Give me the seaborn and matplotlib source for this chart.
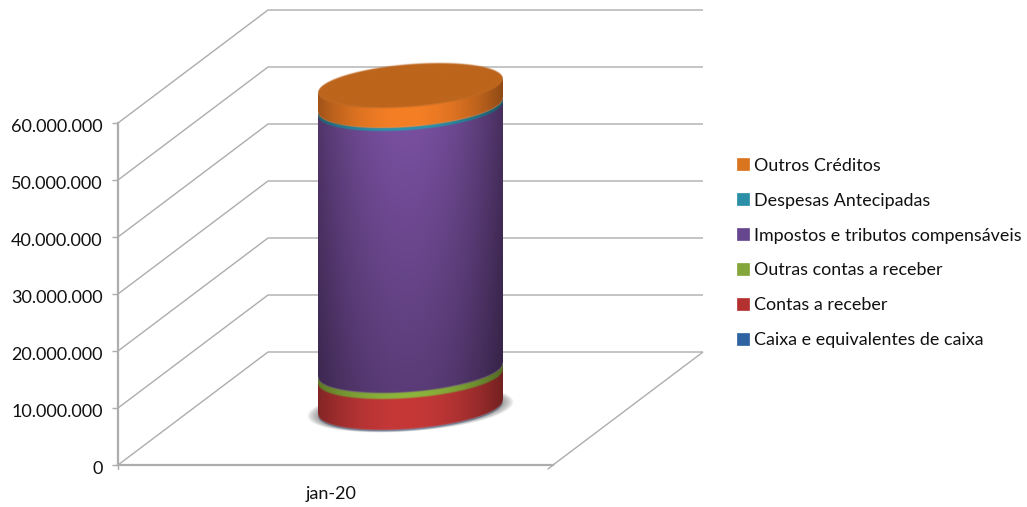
import numpy as np
import pandas as pd
import seaborn as sns
import matplotlib.pyplot as plt
from matplotlib.patches import Patch, Polygon
from matplotlib.ticker import FuncFormatter
from matplotlib.transforms import ScaledTranslation

sns.set_theme(style="white")
plt.rcParams['font.family'] = ['Lato', 'DejaVu Sans']

# Data (reais)
period = ['jan-20']
series = ['Caixa e equivalentes de caixa', 'Contas a receber', 'Outras contas a receber',
          'Impostos e tributos compensáveis', 'Despesas Antecipadas', 'Outros Créditos']
values = [60000, 5600000, 1000000, 46000000, 500000, 3500000]
y_ticks = [0, 10000000, 20000000, 30000000, 40000000, 50000000, 60000000]

# Colours
colors = ['#2f66a8', '#c63838', '#8db43c', '#7c52a4', '#2a93ad', '#f57f25']
legend_colors = ['#2f62a0', '#b5312f', '#84a63a', '#66478f', '#2b8fa8', '#d9741f']
cap_color = '#bd651c'
line_color = '#adadad'
fade = [1, 1, 1, 0.72, 1, 1]  # darkening towards the base of each band

# Frame in pixels of the 1027x507 picture
W, H = 1027, 507
LEFT, RIGHT, BOTTOM, TOP = 118, 553, 465, 123
PX_Y = (BOTTOM - TOP) / 60e6
PX_X = RIGHT - LEFT
DEPTH_X = 150 / PX_X
DEPTH_Y = 113 / PX_Y

fig = plt.figure(figsize=(W / 100, H / 100), dpi=100)
ax = fig.add_axes([LEFT / W, 1 - BOTTOM / H, PX_X / W, (BOTTOM - TOP) / H])


def project(x, y, depth):
    return x + depth * DEPTH_X, y + depth * DEPTH_Y


def wire(xs, ys, depths, lw=1.0):
    px, py = project(np.array(xs), np.array(ys), np.array(depths))
    ax.plot(px, py, color=line_color, lw=lw, clip_on=False, zorder=1, solid_capstyle='butt')


# stacked bars via seaborn, their geometry then drives the cylinder bands
bottom = 0
for name, val in zip(series, values):
    df = pd.DataFrame({'period': period, 'value': [val]})
    sns.barplot(data=df, x='period', y='value', color='white', width=0.423, bottom=bottom,
                errorbar=None, ax=ax)
    bottom += val
bars = list(ax.patches)
for b in bars:
    b.set_visible(False)

ax.set_xlim(-0.5, 0.5)
ax.set_ylim(0, 60e6)

# walls and floor
for v in y_ticks:
    wire([-0.5, -0.5, 0.5], [v, v, v], [0, 1, 1])
wire([0.5, 0.5], [0, 0], [0, 1])

# cylinder
cx_depth = 0.5
half_w = bars[0].get_width() / 2
cx = bars[0].get_x() + half_w + cx_depth * DEPTH_X
dy0 = cx_depth * DEPTH_Y
ELL_B = 21.4 / PX_Y
ELL_S = 7 / PX_Y
SOFT = 1.6 / PX_Y


def front(u, v):
    return v + dy0 - ELL_B * np.sqrt(np.clip(1 - u ** 2, 0, 1)) + ELL_S * u


def back(u, v):
    return v + dy0 + ELL_B * np.sqrt(np.clip(1 - u ** 2, 0, 1)) + ELL_S * u


def band(lower, upper, color, f=1.0, shade=True):
    rgb = np.array(plt.matplotlib.colors.to_rgb(color))
    u = np.linspace(-1, 1, 400)
    ymin = lower(u).min() - 3 * SOFT
    ymax = upper(u).max() + 3 * SOFT
    rows = max(int((ymax - ymin) * PX_Y * 2), 8)
    y = np.linspace(ymin, ymax, rows)
    U, Y = np.meshgrid(u, y)
    lo, hi = lower(U), upper(U)
    alpha = np.clip((Y - lo) / SOFT + 0.5, 0, 1) * np.clip((hi - Y) / SOFT + 0.5, 0, 1)
    side = 0.62 + 0.38 * (1 - np.abs(U + 0.05) ** 2) if shade else np.ones_like(U)
    span = np.clip((Y - ymin) / (ymax - ymin), 0, 1)
    vert = f + (1 - f) * span
    img = np.zeros(U.shape + (4,))
    for i in range(3):
        img[..., i] = np.clip(rgb[i] * side * vert, 0, 1)
    img[..., 3] = alpha
    ax.imshow(img, extent=[cx - half_w, cx + half_w, ymin, ymax], origin='lower', aspect='auto',
              interpolation='bilinear', zorder=4, clip_on=False)


# soft shadow under the base
t = np.linspace(0, 2 * np.pi, 120)
for k in np.linspace(1.0, 0.86, 14):
    sx = cx + half_w * 1.12 * k * np.cos(t)
    sy = dy0 + (ELL_B * 1.05 * k * np.sin(t) + ELL_S * np.cos(t)) - 0.5 / PX_Y
    ax.add_patch(Polygon(np.c_[sx, sy], closed=True, fc='#555555', ec='none', alpha=0.065,
                         zorder=3, clip_on=False))

for b, color, f in zip(bars, colors, fade):
    lo_v = b.get_y()
    # overlap the next band by a pixel, but keep the very thin Caixa band thin
    hi_v = b.get_y() + b.get_height() + min(1.0 / PX_Y, b.get_height())
    band(lambda u, v=lo_v: front(u, v), lambda u, v=hi_v: front(u, v), color, f)

top_v = bars[-1].get_y() + bars[-1].get_height()
band(lambda u: front(u, top_v), lambda u: back(u, top_v), cap_color, shade=False)

# axes styling
for side in ['top', 'right']:
    ax.spines[side].set_visible(False)
for side in ['left', 'bottom']:
    ax.spines[side].set_color(line_color)
    ax.spines[side].set_linewidth(1.6)
    ax.spines[side].set_zorder(2)

ax.set_yticks(y_ticks)
ax.yaxis.set_major_formatter(FuncFormatter(lambda v, _: f'{int(v):,}'.replace(',', '.')))
ax.tick_params(axis='y', length=4, width=1, color=line_color, labelsize=13, pad=7,
               labelcolor='#111111', left=True)
for lab in ax.get_yticklabels():
    lab.set_transform(lab.get_transform() + ScaledTranslation(0, -1.8 / 72, fig.dpi_scale_trans))
ax.set_xticks([-0.01])
ax.set_xticklabels(period)
ax.tick_params(axis='x', length=0, labelsize=13, pad=15, labelcolor='#111111')
ax.set_xlabel('')
ax.set_ylabel('')
ax.set_xlim(-0.5, 0.5)
ax.set_ylim(0, 60e6)

# little floor ticks
ax.plot([-0.5, -0.5], [0, -4 / PX_Y], color=line_color, lw=1, clip_on=False, zorder=2)
ax.plot([0.5, 0.5 - 5 / PX_X], [0, -4 / PX_Y], color=line_color, lw=1, clip_on=False, zorder=2)

# legend, same reversed order as the original
handles = [Patch(facecolor=c, edgecolor=c, lw=0.5) for c in legend_colors[::-1]]
fig.legend(handles, series[::-1], loc='center left', bbox_to_anchor=(737 / W, 1 - 253 / H),
           frameon=False, fontsize=12.9, handlelength=0.66, handleheight=0.66,
           handletextpad=0.28, labelspacing=1.06, borderpad=0, borderaxespad=0,
           labelcolor='#111111')

fig.savefig('out.png', dpi=100)
